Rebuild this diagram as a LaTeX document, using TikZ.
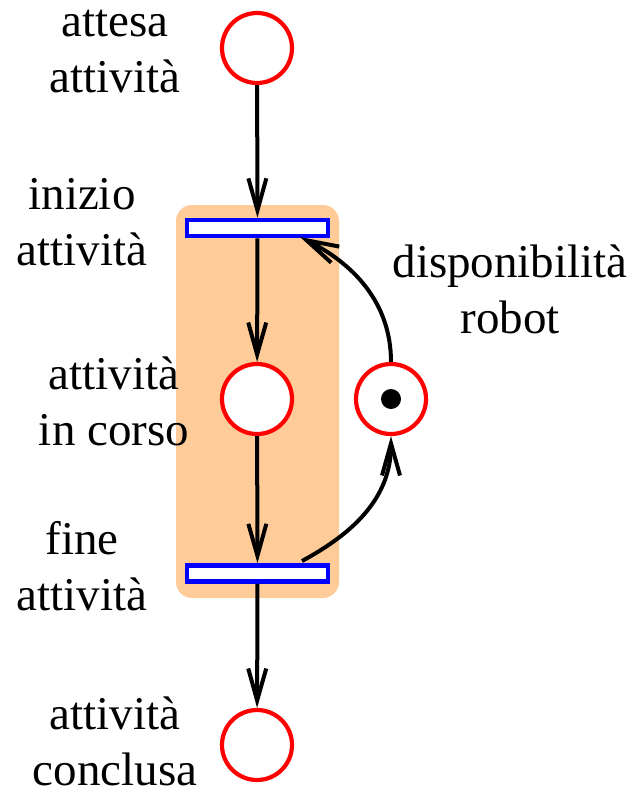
\documentclass[tikz,border=0pt]{standalone}
\usepackage{fontspec}
\setmainfont{Liberation Serif}
\usetikzlibrary{arrows.meta}
\definecolor{peach}{RGB}{255,204,153}
\begin{document}
\begin{tikzpicture}[x=1pt,y=-1pt,
  place/.style={circle,draw=red,line width=4.2pt,fill=white,minimum size=70pt,inner sep=0pt},
  trans/.style={rectangle,draw=blue,line width=4.6pt,fill=white,minimum width=141pt,minimum height=16pt,inner sep=0pt},
  lbl/.style={align=center,font=\fontsize{47}{56}\selectfont,inner sep=0pt,anchor=base},
  arr/.style={line width=4pt,-{Straight Barb[length=32pt,width=18pt,line width=4pt]}},
  tok/.style={circle,fill=black,minimum size=20pt,inner sep=0pt}]
\useasboundingbox (0,0) rectangle (633,795);
\fill[peach,rounded corners=16pt] (176,205) rectangle (339,598);
\node[place] (p1) at (257,48) {};
\node[trans] (t1) at (257.5,228) {};
\node[place] (p2) at (257,399) {};
\node[place] (pr) at (391,399) {};
\node[tok] (tk) at (391,399) {};
\node[trans] (t2) at (257.5,573.5) {};
\node[place] (p3) at (257,745) {};
\coordinate (t1in) at (300,237);
\coordinate (t2out) at (302,561);
\draw[arr] (p1) -- (t1);
\draw[arr] (t1) -- (p2);
\draw[arr] (p2) -- (t2);
\draw[arr] (t2) -- (p3);
\draw[arr] (pr.north) .. controls (391,300) and (350,262) .. (t1in);
\draw[arr] (t2out) .. controls (350,535) and (391,500) .. (pr.south);
\node[lbl] (l1) at (115,92) {attesa\\attività};
\node[lbl] (l2) at (82,265) {inizio\\attività};
\node[lbl] (l3) at (510,333) {disponibilità\\robot};
\node[lbl] (l4) at (114,445) {attività\\in corso};
\node[lbl] (l5) at (82,610) {fine\\attività};
\node[lbl] (l6) at (115,785) {attività\\conclusa};
\end{tikzpicture}
\end{document}
